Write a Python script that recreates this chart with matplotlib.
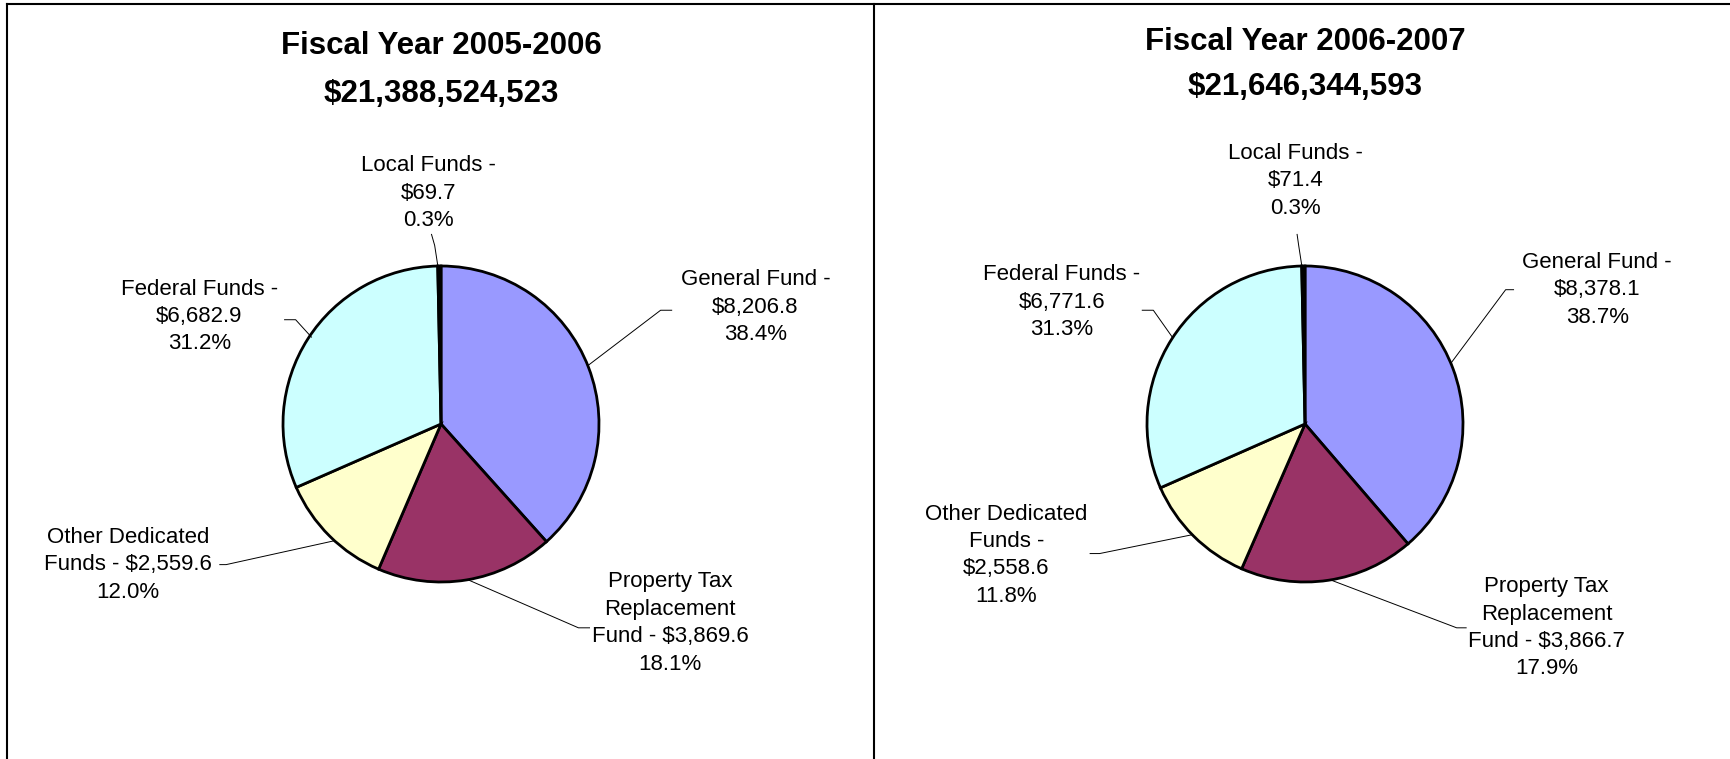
import matplotlib.pyplot as plt
from matplotlib.lines import Line2D

plt.rcParams["font.family"] = ["Liberation Sans", "DejaVu Sans"]

# Fund names in pie order (clockwise from 12 o'clock)
FUNDS = ["General Fund", "Property Tax Replacement Fund", "Other Dedicated Funds",
         "Federal Funds", "Local Funds"]
COLORS = ["#9999FF", "#993366", "#FFFFCC", "#CCFFFF", "#000000"]

# Amounts in millions of dollars
VALUES_0506 = [8206.8, 3869.6, 2559.6, 6682.9, 69.7]
VALUES_0607 = [8378.1, 3866.7, 2558.6, 6771.6, 71.4]

TITLES = ["Fiscal Year 2005-2006", "Fiscal Year 2006-2007"]
TOTALS = ["$21,388,524,523", "$21,646,344,593"]

# label texts as printed on the chart
LABELS_0506 = [
    "General Fund -\n$8,206.8\n38.4%",
    "Property Tax\nReplacement\nFund - $3,869.6\n18.1%",
    "Other Dedicated\nFunds - $2,559.6\n12.0%",
    "Federal Funds -\n$6,682.9\n31.2%",
    "Local Funds -\n$69.7\n0.3%",
]
LABELS_0607 = [
    "General Fund -\n$8,378.1\n38.7%",
    "Property Tax\nReplacement\nFund - $3,866.7\n17.9%",
    "Other Dedicated\nFunds -\n$2,558.6\n11.8%",
    "Federal Funds -\n$6,771.6\n31.3%",
    "Local Funds -\n$71.4\n0.3%",
]

# label centres and leader lines, in pie-radius units
LABEL_POS_0506 = [(1.99, 0.74), (1.45, -1.26), (-1.98, -0.89), (-1.53, 0.68), (-0.08, 1.46)]
LEADERS_0506 = [
    [(0.93, 0.37), (1.39, 0.72), (1.46, 0.72)],
    [(0.18, -0.99), (0.87, -1.29), (0.94, -1.29)],
    [(-0.68, -0.74), (-1.36, -0.89), (-1.40, -0.89)],
    [(-0.82, 0.55), (-0.92, 0.66), (-0.99, 0.66)],
    [(-0.02, 1.0), (-0.04, 1.13), (-0.06, 1.20)],
]
LABEL_POS_0607 = [(1.85, 0.85), (1.53, -1.29), (-1.89, -0.83), (-1.54, 0.77), (-0.06, 1.54)]
LEADERS_0607 = [
    [(0.92, 0.38), (1.27, 0.85), (1.32, 0.85)],
    [(0.17, -0.99), (0.96, -1.29), (1.02, -1.29)],
    [(-0.71, -0.70), (-1.30, -0.82), (-1.36, -0.82)],
    [(-0.84, 0.55), (-0.96, 0.72), (-1.03, 0.72)],
    [(-0.02, 1.0), (-0.04, 1.13), (-0.05, 1.20)],
]
TITLE_Y = [(2.39, 2.09), (2.415, 2.13)]

R_PX = 158


def draw_pie(ax, values, labels, label_pos, leaders, title, total, title_y, cx_px):
    ax.pie(values, colors=COLORS, startangle=90, counterclock=False, radius=1,
           wedgeprops={"edgecolor": "black", "linewidth": 2.0})
    for text, (x, y), pts in zip(labels, label_pos, leaders):
        ax.text(x, y, text, ha="center", va="center", fontsize=16, linespacing=1.4)
        xs, ys = zip(*pts)
        ax.plot(xs, ys, color="black", linewidth=0.7)
    ax.text(0, title_y[0], title, ha="center", va="center", fontsize=22.5, fontweight="bold")
    ax.text(0, title_y[1], total, ha="center", va="center", fontsize=22.5, fontweight="bold")
    ax.set_xlim(-cx_px / R_PX, (865 - cx_px) / R_PX)
    ax.set_ylim(-335 / R_PX, 424 / R_PX)
    ax.set_aspect("auto")
    ax.axis("off")


fig = plt.figure(figsize=(17.3, 7.59), dpi=100)
ax1 = fig.add_axes([0, 0, 0.5, 1])
ax2 = fig.add_axes([0.5, 0, 0.5, 1])
draw_pie(ax1, VALUES_0506, LABELS_0506, LABEL_POS_0506, LEADERS_0506,
         TITLES[0], TOTALS[0], TITLE_Y[0], 441)
draw_pie(ax2, VALUES_0607, LABELS_0607, LABEL_POS_0607, LEADERS_0607,
         TITLES[1], TOTALS[1], TITLE_Y[1], 440)

# panel borders
for xs, ys in [([7 / 1730, 1.0], [1 - 4 / 759] * 2),
               ([7 / 1730] * 2, [0, 1 - 4 / 759]),
               ([874 / 1730] * 2, [0, 1 - 4 / 759])]:
    fig.add_artist(Line2D(xs, ys, color="black", linewidth=1.5, transform=fig.transFigure))

fig.savefig("out.png", dpi=100)
